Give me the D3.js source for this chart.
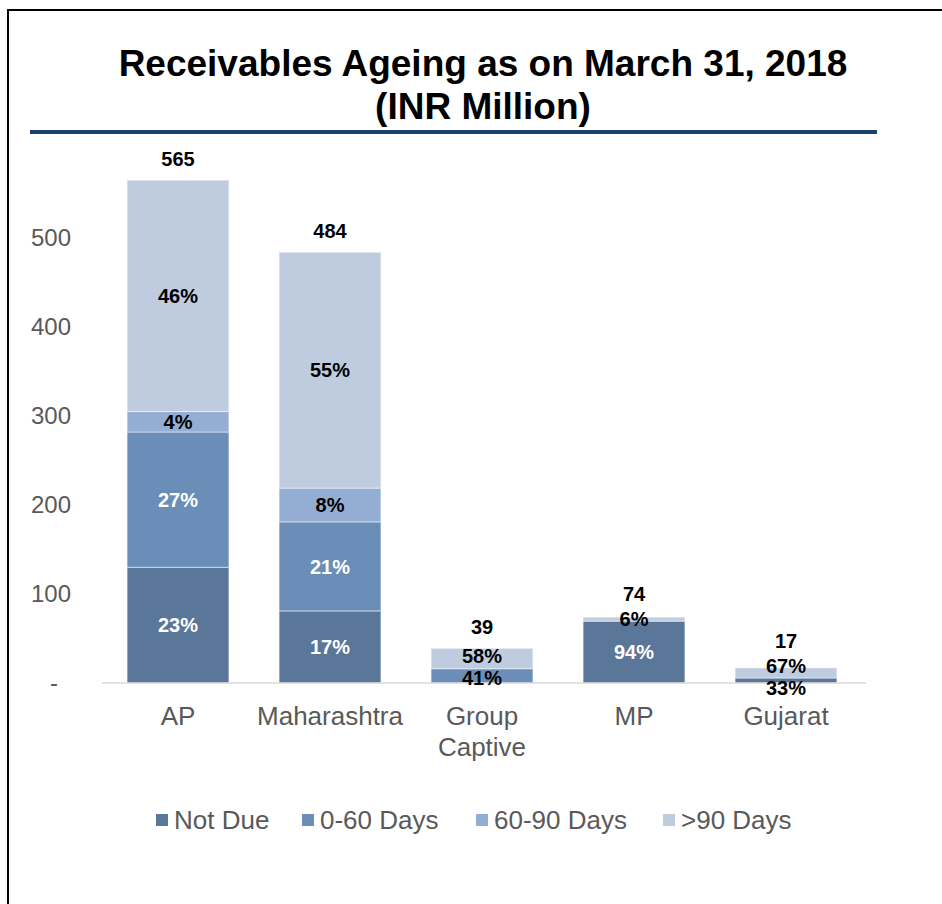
<!DOCTYPE html>
<html>
<head>
<meta charset="utf-8">
<script src="https://cdn.jsdelivr.net/npm/d3@7"></script>
<style>
  body { margin: 0; background: #fff; }
  svg { display: block; font-family: "Liberation Sans", Arial, sans-serif; }
</style>
</head>
<body>
<svg id="chart" width="942" height="904"></svg>
<script>
const categories = ["AP", "Maharashtra", "Group Captive", "MP", "Gujarat"];
const seriesNames = ["Not Due", "0-60 Days", "60-90 Days", ">90 Days"];
// INR million per bucket
const notDue = [130, 81, 0, 69.5, 5.6];
const days0to60 = [152, 100, 16, 0, 0];
const days60to90 = [23, 38, 0, 0, 0];
const over90 = [260, 265, 23, 4.5, 11.4];
const totals = [565, 484, 39, 74, 17];
const pctLabels = [
  ["23%", "27%", "4%", "46%"],
  ["17%", "21%", "8%", "55%"],
  ["", "41%", "", "58%"],
  ["94%", "", "", "6%"],
  ["33%", "", "", "67%"],
];
const yTicks = [0, 100, 200, 300, 400, 500];

const colors = ["#5a7698", "#6a8eb8", "#93aed2", "#bfcce0"];
const darkSeries = [true, true, false, false];

const svg = d3.select("#chart");

// outer frame (runs off the right and bottom edges)
svg.append("rect")
  .attr("x", 8).attr("y", 10)
  .attr("width", 960).attr("height", 920)
  .attr("fill", "none").attr("stroke", "#000").attr("stroke-width", 2);

// title
const title = svg.append("text")
  .attr("text-anchor", "middle")
  .attr("font-weight", "bold")
  .attr("font-size", 37)
  .attr("fill", "#000");
title.append("tspan").attr("x", 483).attr("y", 76).text("Receivables Ageing as on March 31, 2018");
title.append("tspan").attr("x", 483).attr("y", 119).text("(INR Million)");

svg.append("line")
  .attr("x1", 30).attr("x2", 877)
  .attr("y1", 132).attr("y2", 132)
  .attr("stroke", "#1b406b").attr("stroke-width", 4);

const x = d3.scaleBand()
  .domain(categories)
  .range([102, 862])
  .paddingInner(0.33)
  .paddingOuter(0.165);

const y = d3.scaleLinear()
  .domain([0, 600])
  .range([683, 149]);

const rows = categories.map((c, i) => ({
  category: c,
  "Not Due": notDue[i],
  "0-60 Days": days0to60[i],
  "60-90 Days": days60to90[i],
  ">90 Days": over90[i],
}));
const stacked = d3.stack().keys(seriesNames)(rows);

// y axis labels
const yAxis = svg.append("g")
  .attr("transform", "translate(71,0)")
  .call(d3.axisLeft(y).tickValues(yTicks).tickSize(0).tickPadding(0)
    .tickFormat(d => d === 0 ? "-" : d));
yAxis.select(".domain").remove();
yAxis.selectAll("text")
  .attr("font-family", "Liberation Sans, Arial, sans-serif")
  .attr("font-size", 24)
  .attr("fill", "#595959")
  .attr("dx", d => d === 0 ? -13 : 0);

// bars
const layers = svg.append("g").selectAll("g")
  .data(stacked)
  .join("g")
  .attr("fill", (d, i) => colors[i]);

layers.selectAll("rect")
  .data(d => d)
  .join("rect")
  .attr("x", d => x(d.data.category))
  .attr("width", x.bandwidth())
  .attr("y", d => y(d[1]))
  .attr("height", d => y(d[0]) - y(d[1]))
  .attr("stroke", "#ffffff")
  .attr("stroke-opacity", 0.5)
  .attr("stroke-width", 1);

// x axis line
svg.append("line")
  .attr("x1", 102).attr("x2", 866)
  .attr("y1", y(0)).attr("y2", y(0))
  .attr("stroke", "#d9d9d9").attr("stroke-width", 1.5);

// category labels
const xAxis = svg.append("g")
  .attr("transform", `translate(0,${y(0)})`)
  .call(d3.axisBottom(x).tickSize(0).tickPadding(0).tickFormat(""));
xAxis.select(".domain").remove();
xAxis.selectAll(".tick").each(function (d) {
  const words = d === "Group Captive" ? ["Group", "Captive"] : [d];
  const t = d3.select(this).append("text")
    .attr("text-anchor", "middle")
    .attr("font-size", 26)
    .attr("fill", "#595959");
  words.forEach((w, k) => t.append("tspan").attr("x", 0).attr("y", 42 + k * 31).text(w));
});

// data labels: centred in each segment, spread apart when they would overlap
const labelGroup = svg.append("g")
  .attr("font-weight", "bold")
  .attr("font-size", 20)
  .attr("text-anchor", "middle");

const minGap = 22;
categories.forEach((c, ci) => {
  const cx = x(c) + x.bandwidth() / 2;
  const items = [];
  stacked.forEach((layer, si) => {
    const seg = layer[ci];
    const label = pctLabels[ci][si];
    if (!label) return;
    items.push({
      label,
      si,
      h: y(seg[0]) - y(seg[1]),
      cy: (y(seg[0]) + y(seg[1])) / 2,
    });
  });
  for (let pass = 0; pass < 10; pass++) {
    for (let k = 1; k < items.length; k++) {
      const gap = items[k - 1].cy - items[k].cy;
      if (gap < minGap) {
        const shift = (minGap - gap) / 2;
        items[k - 1].cy += shift;
        items[k].cy -= shift;
      }
    }
  }
  items.forEach(it => {
    labelGroup.append("text")
      .attr("x", cx)
      .attr("y", it.cy)
      .attr("dy", "0.36em")
      .attr("fill", darkSeries[it.si] && it.h > 24 ? "#fff" : "#000")
      .text(it.label);
  });
  const top = items.length ? items[items.length - 1].cy : Infinity;
  const ty = Math.min(y(totals[ci]) - 21, top - 25);
  labelGroup.append("text")
    .attr("x", cx)
    .attr("y", ty)
    .attr("dy", "0.36em")
    .attr("fill", "#000")
    .text(totals[ci]);
});

// legend
const legendItems = [156, 302, 476, 663];
const legend = svg.append("g").selectAll("g")
  .data(seriesNames)
  .join("g")
  .attr("transform", (d, i) => `translate(${legendItems[i]},820)`);
legend.append("rect")
  .attr("x", 0).attr("y", -6)
  .attr("width", 12).attr("height", 12)
  .attr("fill", (d, i) => colors[i]);
legend.append("text")
  .attr("x", 18)
  .attr("dy", "0.36em")
  .attr("font-size", 26)
  .attr("fill", "#595959")
  .text(d => d);
</script>
</body>
</html>
